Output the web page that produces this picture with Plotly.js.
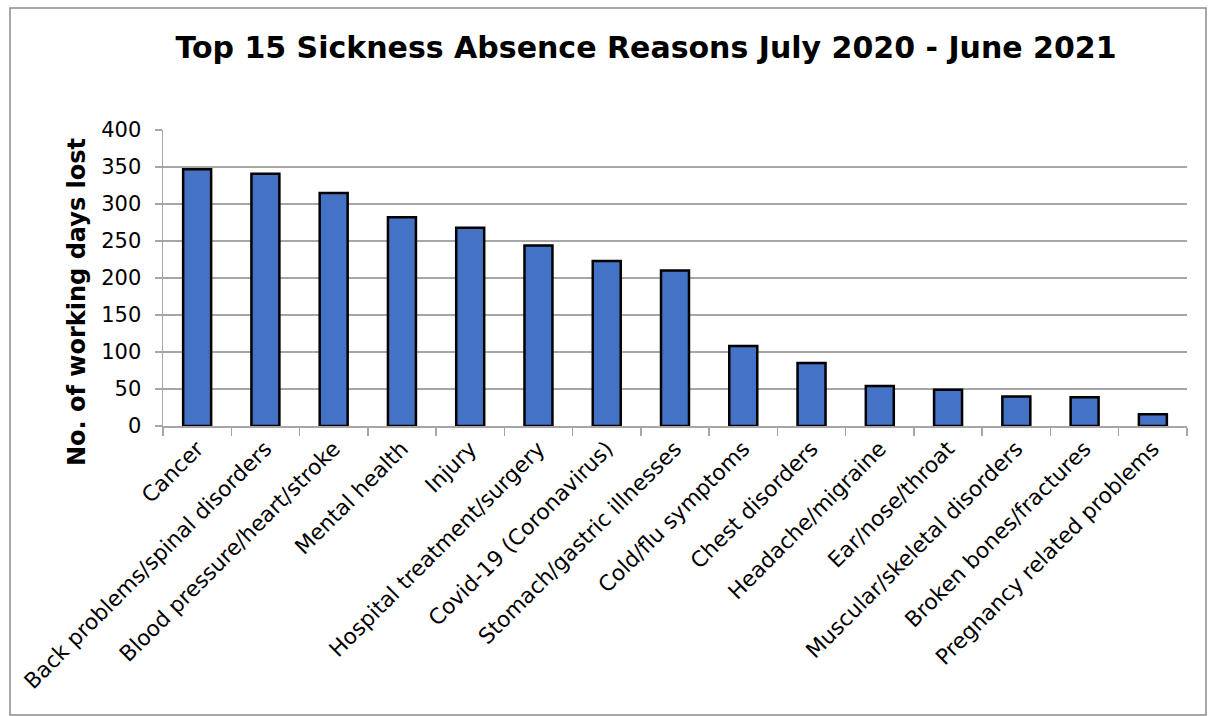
<!DOCTYPE html>
<html>
<head>
<meta charset="utf-8">
<script src="https://cdn.plot.ly/plotly-3.0.1.min.js"></script>
<style>html,body{margin:0;padding:0;background:#fff;}#chart{width:1208px;height:716px;}</style>
</head>
<body>
<div id="chart"></div>
<script>
const categories = [
  "Cancer",
  "Back problems/spinal disorders",
  "Blood pressure/heart/stroke",
  "Mental health",
  "Injury",
  "Hospital treatment/surgery",
  "Covid-19 (Coronavirus)",
  "Stomach/gastric illnesses",
  "Cold/flu symptoms",
  "Chest disorders",
  "Headache/migraine",
  "Ear/nose/throat",
  "Muscular/skeletal disorders",
  "Broken bones/fractures",
  "Pregnancy related problems"
];
const daysLost = [347, 341, 315, 282, 268, 244, 223, 210, 108, 85, 54, 49, 40, 39, 16];
const yTicks = [0, 50, 100, 150, 200, 250, 300, 350, 400];

const FONT = "Verdana, 'DejaVu Sans', sans-serif";
const L = 163, R = 21, T = 130, B = 290;
const W = 1208, H = 716;
const pw = W - L - R, ph = H - T - B;

const trace = {
  type: "bar",
  x: categories,
  y: daysLost,
  marker: { color: "#4472C4", line: { color: "#000000", width: 2.5 } },
  hoverinfo: "x+y"
};

const layout = {
  width: W, height: H,
  margin: { l: L, r: R, t: T, b: B, pad: 0 },
  paper_bgcolor: "#ffffff",
  plot_bgcolor: "#ffffff",
  showlegend: false,
  bargap: 0.59,
  title: {
    text: "<b>Top 15 Sickness Absence Reasons July 2020 - June 2021</b>",
    font: { family: FONT, size: 30, color: "#000000" },
    x: 646 / W, xanchor: "center",
    y: 1 - 47 / H, yanchor: "middle"
  },
  xaxis: {
    type: "category",
    tickangle: -45,
    tickson: "boundaries",
    ticks: "outside", ticklen: 8, tickcolor: "#a6a6a6", tickwidth: 1.5,
    showline: true, linecolor: "#a6a6a6", linewidth: 1.5,
    showgrid: false,
    tickfont: { family: FONT, size: 21.7, color: "#000000" },
    fixedrange: true
  },
  yaxis: {
    range: [0, 400],
    tickvals: yTicks,
    ticktext: yTicks.map(String),
    ticks: "outside", ticklen: 7, tickcolor: "#a6a6a6", tickwidth: 1.5,
    ticklabelstandoff: 9,
    showline: true, linecolor: "#a6a6a6", linewidth: 1.5,
    showgrid: true, gridcolor: "#a6a6a6", gridwidth: 1.5,
    zeroline: false,
    tickfont: { family: FONT, size: 21, color: "#000000" },
    fixedrange: true
  },
  annotations: [{
    text: "<b>No. of working days lost</b>",
    textangle: -90,
    xref: "paper", yref: "paper",
    x: (77 - L) / pw, y: (H - B - 302) / ph,
    xanchor: "center", yanchor: "middle",
    showarrow: false,
    font: { family: FONT, size: 24, color: "#000000" }
  }],
  shapes: [{
    type: "rect", xref: "paper", yref: "paper",
    x0: (10 - L) / pw, x1: (1206 - L) / pw,
    y0: (H - B - 715) / ph, y1: (H - B - 8) / ph,
    line: { color: "#8c8c8c", width: 1.5 }, fillcolor: "rgba(0,0,0,0)"
  }]
};

Plotly.newPlot("chart", [trace], layout, { displayModeBar: false, staticPlot: true });
</script>
</body>
</html>
